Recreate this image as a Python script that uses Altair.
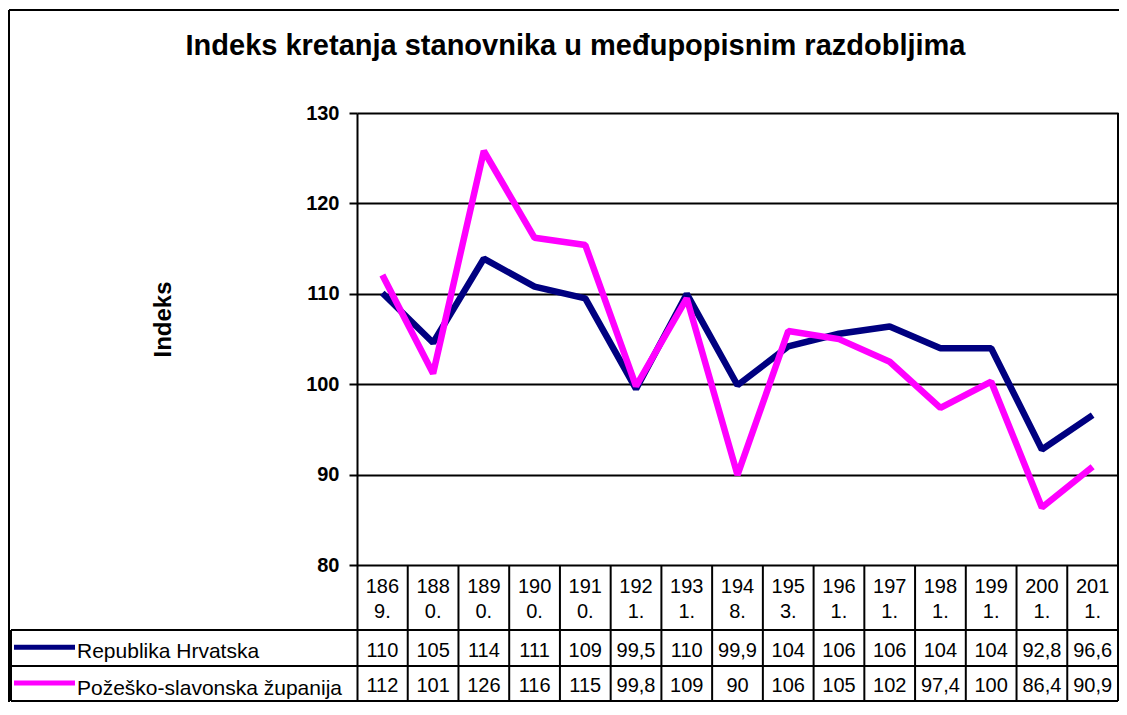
import altair as alt
import pandas as pd

# ---------------- data ----------------
categories = ["1869.", "1880.", "1890.", "1900.", "1910.", "1921.", "1931.",
              "1948.", "1953.", "1961.", "1971.", "1981.", "1991.", "2001.", "2011."]
rh_values = [110.1, 104.6, 113.9, 110.8, 109.5, 99.5, 110.0, 99.9,
             104.2, 105.6, 106.4, 104.0, 104.0, 92.8, 96.6]
ps_values = [112.1, 101.2, 125.8, 116.2, 115.4, 99.8, 109.5, 90.0,
             105.9, 105.0, 102.5, 97.4, 100.3, 86.4, 90.9]
rh_labels = ["110", "105", "114", "111", "109", "99,5", "110", "99,9",
             "104", "106", "106", "104", "104", "92,8", "96,6"]
ps_labels = ["112", "101", "126", "116", "115", "99,8", "109", "90",
             "106", "105", "102", "97,4", "100", "86,4", "90,9"]
series_names = ["Republika Hrvatska", "Požeško-slavonska županija"]
series_colors = ["#000080", "#FF00FF"]
y_ticks = [80, 90, 100, 110, 120, 130]

TITLE = "Indeks kretanja stanovnika u međupopisnim razdobljima"
FONT = "Liberation Sans"

# ---------------- layout ----------------
N = len(categories)
WIDTH, HEIGHT = 761, 588
Y_LOW, Y_HIGH = 65.0, 130.0            # plot area + data table below it
AX_MIN = y_ticks[0]
PX_X = WIDTH / N                        # pixels per x unit
PX_Y = HEIGHT / (Y_HIGH - Y_LOW)        # pixels per y unit


def ux(px):   # pixel offset from plot's left edge -> x units
    return px / PX_X


def uy(px):   # pixel offset below the 80 line -> y units
    return AX_MIN - px / PX_Y


ROW_LINES = [uy(64.7), uy(100.7), Y_LOW]    # horizontal table borders
CAT_BASE = uy(28)
ROW_BASE = [uy(91.4), uy(126.4)]
LEG_LEFT = ux(-346)
SW_X0, SW_X1 = ux(-343), ux(-282)
SW_Y = [uy(82), uy(117.7)]
LEG_TXT_X = ux(-280)
LEG_TXT_Y = [uy(93), uy(129.4)]
FRAME_X = ux(-348)
FRAME_Y = Y_HIGH + 103 / PX_Y

xs = alt.Scale(domain=[0, N], nice=False, zero=False)
ys = alt.Scale(domain=[Y_LOW, Y_HIGH], nice=False, zero=False)

y_axis = alt.Axis(
    values=y_ticks, grid=True, gridColor="black", gridWidth=2,
    domain=True, domainColor="black", domainWidth=2,
    ticks=True, tickSize=8, tickWidth=2, tickColor="black",
    labelFont=FONT, labelFontSize=20, labelFontWeight="bold", labelColor="black",
    labelPadding=10,
    title="Indeks", titleFont=FONT, titleFontSize=24, titleFontWeight="bold",
    titleColor="black", titleX=-194, titleY=206, titleAngle=270,
    titleAlign="center", titleBaseline="middle",
)


def X(field):
    return alt.X(field, scale=xs, axis=None)


def Y(field):
    return alt.Y(field, scale=ys, axis=y_axis)


def YD(value):
    return alt.YDatum(value, scale=ys, axis=y_axis)


lines = pd.DataFrame({
    "pos": [i + 0.5 for i in range(N)] * 2,
    "value": rh_values + ps_values,
    "series": [series_names[0]] * N + [series_names[1]] * N,
})
cells = pd.DataFrame({
    "pos": [i + 0.5 for i in range(N)],
    "cat": [c[:3] + "\n" + c[3:] for c in categories],
    "rh": rh_labels,
    "ps": ps_labels,
})
vlines = pd.DataFrame({
    "x": list(range(1, N + 1)),
    "y": [Y_LOW] * N,
    "y2": [AX_MIN] * (N - 1) + [Y_HIGH],
})
hlines = pd.DataFrame({"y": ROW_LINES, "x": [LEG_LEFT] * 3, "x2": [N] * 3})
legend = pd.DataFrame({
    "series": series_names,
    "sy": SW_Y,
    "ty": LEG_TXT_Y,
    "x0": [SW_X0] * 2, "x1": [SW_X1] * 2, "tx": [LEG_TXT_X] * 2,
})
color = alt.Color("series:N", scale=alt.Scale(domain=series_names, range=series_colors), legend=None)

base_line = alt.Chart(lines).mark_line(strokeWidth=6.5, strokeJoin="bevel")
rh_line = base_line.transform_filter(alt.datum.series == series_names[0]).encode(
    x=X("pos:Q"), y=Y("value:Q"), color=color,
)
ps_line = base_line.transform_filter(alt.datum.series == series_names[1]).encode(
    x=X("pos:Q"), y=Y("value:Q"), color=color,
)

v_rules = alt.Chart(vlines).mark_rule(color="black", strokeWidth=2).encode(
    x=X("x:Q"), y=Y("y:Q"), y2="y2:Q",
)
h_rules = alt.Chart(hlines).mark_rule(color="black", strokeWidth=2).encode(
    x=X("x:Q"), x2="x2:Q", y=Y("y:Q"),
)
leg_border = alt.Chart(hlines.head(1)).mark_rule(color="black", strokeWidth=2).encode(
    x=X("x:Q"), y=Y("y:Q"), y2=alt.datum(Y_LOW),
)

text_style = dict(font=FONT, fontSize=20, baseline="alphabetic", align="center", color="black")
cat_text = alt.Chart(cells).mark_text(lineBreak="\n", lineHeight=24.4, **text_style).encode(
    x=X("pos:Q"), y=YD(CAT_BASE), text="cat:N",
)
rh_text = alt.Chart(cells).mark_text(**text_style).encode(
    x=X("pos:Q"), y=YD(ROW_BASE[0]), text="rh:N",
)
ps_text = alt.Chart(cells).mark_text(**text_style).encode(
    x=X("pos:Q"), y=YD(ROW_BASE[1]), text="ps:N",
)

swatches = alt.Chart(legend).mark_rule(strokeWidth=5).encode(
    x=X("x0:Q"), x2="x1:Q", y=Y("sy:Q"), color=color,
)
leg_text = alt.Chart(legend).mark_text(
    font=FONT, fontSize=21, baseline="alphabetic", align="left", color="black",
).encode(
    x=X("tx:Q"), y=Y("ty:Q"), text="series:N",
)

frame = pd.DataFrame({"x": [FRAME_X], "x2": [N + 1.0], "y": [FRAME_Y], "y2": [Y_LOW - 5]})
frame_top = alt.Chart(frame).mark_rule(color="black", strokeWidth=2).encode(
    x=X("x:Q"), x2="x2:Q", y=Y("y:Q"),
)
frame_left = alt.Chart(frame).mark_rule(color="black", strokeWidth=2).encode(
    x=X("x:Q"), y=Y("y:Q"), y2="y2:Q",
)

chart = alt.layer(
    h_rules, v_rules, leg_border, frame_top, frame_left,
    rh_line, ps_line, cat_text, rh_text, ps_text, swatches, leg_text,
).properties(
    width=WIDTH, height=HEIGHT,
    title=alt.TitleParams(
        text=TITLE, font=FONT, fontSize=29, fontWeight="bold", color="black",
        anchor="middle", dx=-162, offset=-75, baseline="alphabetic",
    ),
    autosize=alt.AutoSizeParams(type="none"),
    padding={"left": 349, "top": 105, "right": 1, "bottom": 1},
    background="white",
).configure_view(stroke=None)

chart.save("out.html", embed_options={"renderer": "svg", "actions": False})
